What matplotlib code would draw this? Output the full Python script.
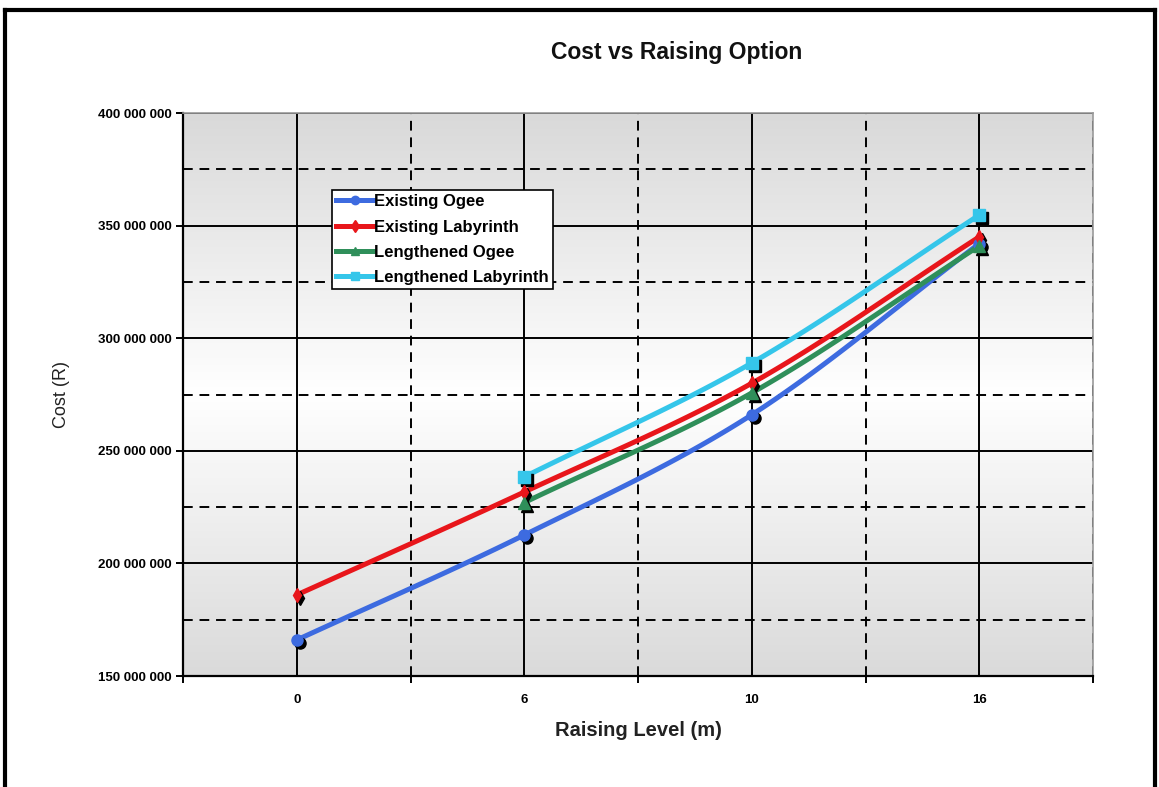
import numpy as np
import matplotlib.pyplot as plt
import matplotlib.transforms as mtransforms
from matplotlib.colors import LinearSegmentedColormap
from matplotlib.lines import Line2D
from matplotlib.ticker import FuncFormatter, MultipleLocator, FixedLocator

plt.rcParams['font.family'] = ['Liberation Sans', 'DejaVu Sans']

levels = ["0", "6", "10", "16"]
existing_ogee = [166e6, 212.6e6, 266e6, 342e6]
existing_labyrinth = [186e6, 231.7e6, 280e6, 345e6]
lengthened_ogee = [np.nan, 227e6, 275.7e6, 341e6]
lengthened_labyrinth = [np.nan, 238.4e6, 289e6, 354.7e6]

series = [
    ("Existing Ogee", existing_ogee, "#3d6be0", "o", 8),
    ("Existing Labyrinth", existing_labyrinth, "#e8161b", "d", 7),
    ("Lengthened Ogee", lengthened_ogee, "#2f8f5a", "^", 8),
    ("Lengthened Labyrinth", lengthened_labyrinth, "#35c6ea", "s", 8),
]


def smooth(xs, ys, n=40):
    # Catmull-Rom curve through the points, like a spreadsheet "smoothed line"
    p = np.array([(x, y) for x, y in zip(xs, ys) if not np.isnan(y)], dtype=float)
    ext = np.vstack([2 * p[0] - p[1], p, 2 * p[-1] - p[-2]])
    t = np.linspace(0, 1, n)[:, None]
    segs = []
    for i in range(1, len(ext) - 2):
        p0, p1, p2, p3 = ext[i - 1:i + 3]
        segs.append(0.5 * (2 * p1 + (-p0 + p2) * t
                           + (2 * p0 - 5 * p1 + 4 * p2 - p3) * t ** 2
                           + (-p0 + 3 * p1 - 3 * p2 + p3) * t ** 3))
    c = np.vstack(segs)
    return c[:, 0], c[:, 1]


fig = plt.figure(figsize=(11.59, 7.87), dpi=100)
ax = fig.add_axes([183 / 1159, 1 - 676 / 787, 910 / 1159, 563 / 787])

x = np.arange(len(levels))
ax.set_xlim(-0.5, len(levels) - 0.5)
ax.set_ylim(150e6, 400e6)

# grey-white-grey background
cmap = LinearSegmentedColormap.from_list("bg", ["#d9d9d9", "#ffffff", "#dadada"])
grad = np.linspace(0, 1, 256)[:, None]
ax.imshow(grad, cmap=cmap, aspect="auto", extent=(-0.5, len(levels) - 0.5, 150e6, 400e6),
          zorder=0, interpolation="bilinear")

# grid
ax.yaxis.set_major_locator(MultipleLocator(50e6))
ax.yaxis.set_minor_locator(MultipleLocator(25e6))
ax.xaxis.set_major_locator(FixedLocator(x))
ax.xaxis.set_minor_locator(FixedLocator(np.arange(-0.5, len(levels), 1.0)))
ax.set_xticklabels(levels)
ax.grid(which="major", color="black", lw=1.4, ls="-", zorder=1)
ax.grid(which="minor", color="black", lw=1.4, ls=(0, (5, 3.5)), zorder=1)
ax.set_axisbelow(True)

ax.tick_params(axis="x", which="major", length=0, pad=13, labelsize=9.5)
ax.tick_params(axis="x", which="minor", length=5, width=1.4, direction="out")
ax.tick_params(axis="y", which="major", length=5, width=1.4, direction="out", labelsize=9.5, pad=3)
ax.tick_params(axis="y", which="minor", length=0)
for lab in ax.get_xticklabels() + ax.get_yticklabels():
    lab.set_fontweight("bold")
ax.yaxis.set_major_formatter(FuncFormatter(lambda v, p: format(int(round(v)), ",").replace(",", " ")))

for side in ("left", "bottom"):
    ax.spines[side].set_color("black")
    ax.spines[side].set_linewidth(1.6)
for side in ("top", "right"):
    ax.spines[side].set_color("#9a9a9a")
    ax.spines[side].set_linewidth(1.2)

shadow = mtransforms.offset_copy(ax.transData, fig=fig, x=3, y=-3, units="dots")
handles = []
for name, vals, color, marker, ms in series:
    vals = np.array(vals, dtype=float)
    sx, sy = smooth(x, vals)
    ax.plot(sx, sy, color=color, lw=3.6, zorder=3, solid_capstyle="round")
    ax.plot(x, vals, ls="none", marker=marker, ms=ms, color="black", transform=shadow, zorder=4)
    ax.plot(x, vals, ls="none", marker=marker, ms=ms, color=color, zorder=5)
    handles.append(Line2D([], [], color=color, lw=3.6, marker=marker, ms=6))

leg = fig.legend(handles, [s[0] for s in series], loc="upper left",
                 bbox_to_anchor=(332 / 1159, 1 - 190 / 787), borderaxespad=0,
                 frameon=True, fancybox=False, handlelength=2.2, handletextpad=0.1,
                 labelspacing=0.62, borderpad=0.25, prop={"size": 12, "weight": "bold"})
leg.get_frame().set_edgecolor("black")
leg.get_frame().set_linewidth(1.2)
leg.get_frame().set_alpha(1)

fig.text(677 / 1159, 1 - 52 / 787, "Cost vs Raising Option", ha="center", va="center",
         fontsize=16.5, fontweight="bold", color="#111111")
fig.text(638 / 1159, 1 - 730 / 787, "Raising Level (m)", ha="center", va="center",
         fontsize=14.5, fontweight="bold", color="#222222")
fig.text(62 / 1159, 1 - 395 / 787, "Cost (R)", ha="center", va="center", rotation=90,
         fontsize=13, color="#222222")

# page frame
for xs, ys in [((5, 1155), (10, 10)), ((5, 5), (10, 787)), ((1155, 1155), (10, 787))]:
    fig.add_artist(Line2D([v / 1159 for v in xs], [1 - v / 787 for v in ys],
                          color="black", lw=3, transform=fig.transFigure))

fig.savefig("out.png", dpi=100)
